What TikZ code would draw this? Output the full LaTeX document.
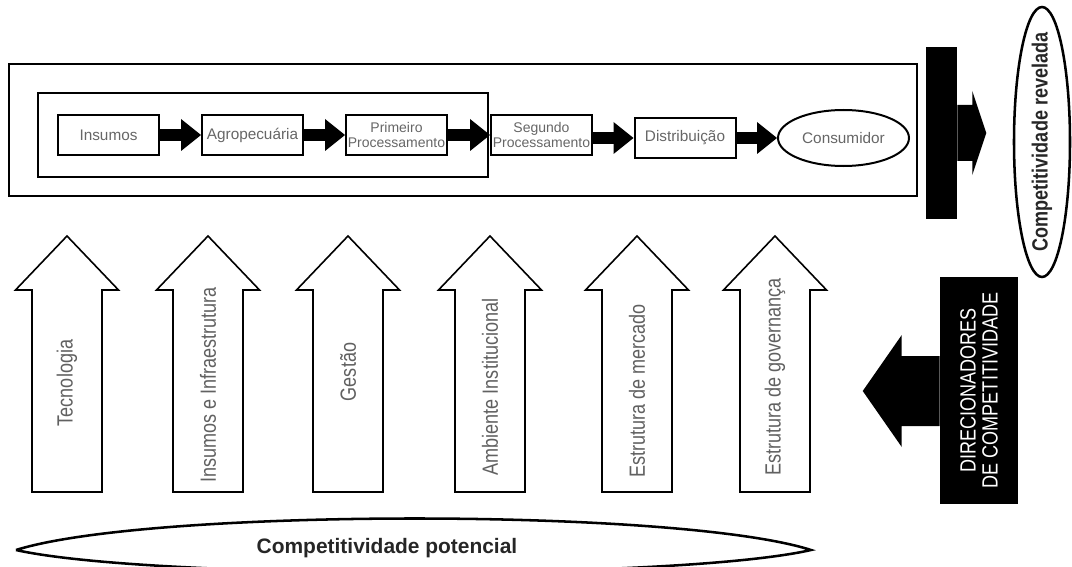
\documentclass[tikz,border=0pt]{standalone}
\usepackage{fontspec}
\setmainfont{Liberation Sans}
\newfontfamily\narrowsans[FakeStretch=0.82]{Liberation Sans}
\usetikzlibrary{shapes.geometric, arrows.meta, positioning, calc}

\begin{document}
\begin{tikzpicture}[
    x=0.75pt, y=-0.75pt,
    chainframe/.style={rectangle, draw, line width=1.8pt},
    stage/.style={rectangle, draw, line width=1.5pt, minimum width=75.75pt, minimum height=30pt, inner sep=1pt, align=center, text=black!60, font=\fontsize{11.5}{12}\selectfont},
    twoline/.style={font=\fontsize{10.5}{11}\selectfont},
    flow/.style={line width=9.4pt, -{Triangle[length=15pt, width=24pt, line width=0pt]}},
    driver/.style={rotate=90, text=black!62, font=\narrowsans\fontsize{16.5}{18}\selectfont},
    uparrow/.style={draw, line width=1.2pt, fill=white},
    bigtext/.style={font=\bfseries\fontsize{15.7}{18}\selectfont, text=black!85}
]
\useasboundingbox (0,0) rectangle (1072,567);

% Frames round the chain
\node[chainframe, minimum width=681pt, minimum height=99pt] (outer) at (463,130) {};
\node[chainframe, line width=1.5pt, minimum width=337.5pt, minimum height=63pt] (inner) at (263,135) {};

% Chain
\node[stage] (ins) at (108.5,135) {Insumos};
\node[stage] (agr) at (252.5,135) {Agropecuária};
\node[stage, twoline] (prim) at (396.5,135) {Primeiro\\Processamento};
\node[stage, twoline] (seg) at (541.5,135) {Segundo\\Processamento};
\node[stage] (dist) at (685,138) {Distribuição};
\node[ellipse, draw, line width=1.5pt, minimum width=98.25pt, minimum height=42pt, inner sep=0pt, text=black!60, font=\fontsize{11.5}{12}\selectfont] (cons) at (843.5,138) {Consumidor};

\draw[flow] (ins) -- (agr);
\draw[flow] (agr) -- (prim);
\draw[flow] (prim) -- (seg);
\draw[flow] (seg.east |- dist) -- (dist);
\draw[flow] (dist) -- (cons);

% Revealed competitiveness
\node[fill=black, minimum width=23.25pt, minimum height=129pt, inner sep=0pt] (bar) at (941.5,133) {};
\fill (bar.east) ++(0,-28) -- ++(15,0) -- ++(0,-14) -- ++(14,42) -- ++(-14,42) -- ++(0,-14) -- ++(-15,0) -- cycle;
\node[ellipse, draw, line width=1.9pt, minimum width=42pt, minimum height=202.5pt, inner sep=0pt] (rev) at (1042,142) {};
\node[rotate=90, font=\narrowsans\bfseries\fontsize{16.5}{18}\selectfont, text=black!85] (revtext) at (rev.center) {Competitividade revelada};

% Drivers
\node[fill=black, rotate=90, minimum width=170.25pt, minimum height=58.5pt, inner sep=2pt, text=white, align=center, font=\narrowsans\fontsize{16.5}{16.5}\selectfont] (dir) at (979,390.5) {DIRECIONADORES\\DE COMPETITIVIDADE};
\fill (dir.north) ++(0,-34.5) -- ++(-38,0) -- ++(0,-21) -- ++(-39,56) -- ++(39,56) -- ++(0,-21) -- ++(38,0) -- cycle;

\foreach \cx/\ty/\name/\txt in {67/383/tec/Tecnologia, 208/385/infra/Insumos e Infraestrutura, 348/372/gest/Gestão, 490/387/amb/Ambiente Institucional, 637/391/merc/Estrutura de mercado, 775/377/gov/Estrutura de governança} {
  \draw[uparrow] (\cx-35,492) -- (\cx-35,290) -- (\cx-51.5,290) -- (\cx,236) -- (\cx+51.5,290) -- (\cx+35,290) -- (\cx+35,492) -- cycle;
  \node[driver] (\name) at (\cx,\ty) {\txt};
}

% Potential competitiveness
\draw[line width=1.9pt] (16,550) .. controls (150,508) and (680,508) .. (811,550) .. controls (680,580) and (150,580) .. (16,550);
\node[bigtext] (pot) at (387,548) {Competitividade potencial};
\end{tikzpicture}
\end{document}
